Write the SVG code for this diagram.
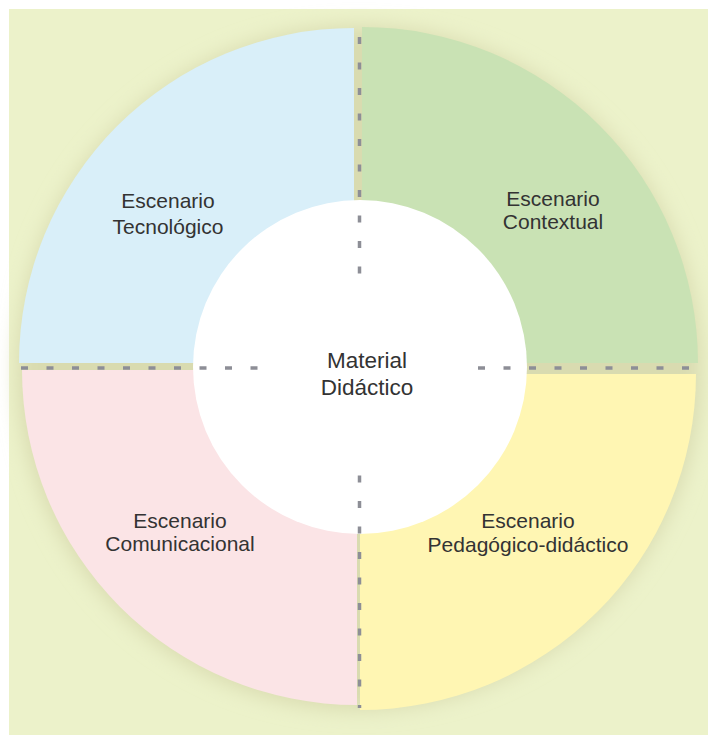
<svg xmlns="http://www.w3.org/2000/svg" width="708" height="735" viewBox="0 0 708 735">
  <style>
    .label { font-family: "Liberation Sans", Arial, sans-serif; font-size: 21px; fill: #333333; text-anchor: middle; }
    .center { font-size: 22.5px; }
    .divider { fill: none; stroke: #8d8e96; stroke-width: 3.5; stroke-dasharray: 7 18.5; }
  </style>
  <defs>
    <filter id="halo" x="-20%" y="-20%" width="140%" height="140%">
      <feGaussianBlur stdDeviation="10"/>
    </filter>
  </defs>

  <!-- page -->
  <rect x="0" y="0" width="708" height="735" fill="#ffffff"/>
  <rect x="9" y="9" width="699" height="726" fill="#ecf2ca"/>

  <!-- soft halo behind the wheel -->
  <circle cx="359" cy="368" r="342" fill="#d9dbb0" filter="url(#halo)"/>

  <!-- quadrants -->
  <g id="escenario-tecnologico">
    <path d="M354,363 L19,363 A335,335 0 0 1 354,28 Z" fill="#d9eff9"/>
    <text class="label" x="168" y="208">Escenario</text>
    <text class="label" x="168" y="234">Tecnológico</text>
  </g>
  <g id="escenario-contextual">
    <path d="M362,363 L362,27 A336,336 0 0 1 698,363 Z" fill="#c9e2b4"/>
    <text class="label" x="553" y="206">Escenario</text>
    <text class="label" x="553" y="229">Contextual</text>
  </g>
  <g id="escenario-comunicacional">
    <path d="M357,370 L357,705 A335,335 0 0 1 22,370 Z" fill="#fbe4e6"/>
    <text class="label" x="180" y="528">Escenario</text>
    <text class="label" x="180" y="551">Comunicacional</text>
  </g>
  <g id="escenario-pedagogico">
    <path d="M360,374 L696,374 A336,336 0 0 1 360,710 Z" fill="#fff6b3"/>
    <text class="label" x="528" y="528">Escenario</text>
    <text class="label" x="528" y="552">Pedagógico-didáctico</text>
  </g>

  <!-- hub -->
  <g id="material-didactico">
    <circle cx="360" cy="367" r="167" fill="#ffffff"/>
    <text class="label center" x="367" y="368">Material</text>
    <text class="label center" x="367" y="395">Didáctico</text>
  </g>

  <!-- dashed dividers -->
  <g id="connectors">
    <line class="divider" x1="359.5" y1="37" x2="359.5" y2="274"/>
    <line class="divider" x1="359.5" y1="475.5" x2="359.5" y2="708"/>
    <line class="divider" x1="21" y1="368" x2="259" y2="368"/>
    <line class="divider" x1="478" y1="368" x2="690" y2="368"/>
  </g>
</svg>
